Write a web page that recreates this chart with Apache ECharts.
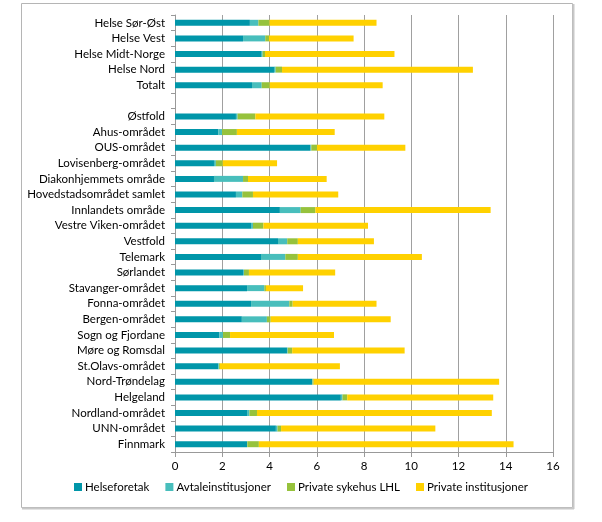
<!DOCTYPE html>
<html>
<head>
<meta charset="utf-8">
<script src="https://cdn.jsdelivr.net/npm/echarts@6/dist/echarts.min.js"></script>
<style>html,body{margin:0;padding:0;background:#fff}#c{width:602px;height:522px}</style>
</head>
<body>
<div id="c"></div>
<script>
var categories = ["Helse Sør-Øst","Helse Vest","Helse Midt-Norge","Helse Nord","Totalt","","Østfold","Ahus-området","OUS-området","Lovisenberg-området","Diakonhjemmets område","Hovedstadsområdet samlet","Innlandets område","Vestre Viken-området","Vestfold","Telemark","Sørlandet","Stavanger-området","Fonna-området","Bergen-området","Sogn og Fjordane","Møre og Romsdal","St.Olavs-området","Nord-Trøndelag","Helgeland","Nordland-området","UNN-området","Finnmark"];
var seriesNames = ["Helseforetak","Avtaleinstitusjoner","Private sykehus LHL","Private institusjoner"];
var helseforetak = [3.17,2.88,3.67,4.19,3.26,null,2.58,1.83,5.73,1.65,1.65,2.58,4.44,3.22,4.36,3.64,2.88,3.05,3.22,2.83,1.88,4.74,1.83,5.80,7.02,3.05,4.27,3.05];
var avtale = [0.36,0.94,0.04,0.07,0.41,null,0.07,0.16,0.04,0.08,1.23,0.27,0.88,0.08,0.39,1.03,0.04,0.73,1.62,1.06,0.15,0.03,0.03,0.02,0.07,0.10,0.07,0.01];
var lhl = [0.47,0.16,0.10,0.27,0.34,null,0.75,0.63,0.24,0.29,0.21,0.45,0.62,0.44,0.45,0.53,0.21,0.07,0.14,0.16,0.30,0.19,0.04,0.05,0.20,0.32,0.15,0.49];
var privInst = [4.53,3.58,5.48,8.08,4.78,null,5.46,4.14,3.74,2.30,3.33,3.61,7.42,4.43,3.22,5.25,3.65,1.57,3.55,5.08,4.40,4.76,5.08,7.85,6.18,9.94,6.53,10.78];
var xTicks = [0,2,4,6,8,10,12,14,16];
var colors = ["#0096A9","#48BEBC","#96C23C","#FFD100"];

var chart = echarts.init(document.getElementById('c'), null, {renderer:'canvas'});
var font = 'Lato, "Open Sans", sans-serif';
var data = [helseforetak, avtale, lhl, privInst];
chart.setOption({
  animation:false,
  color: colors,
  textStyle:{fontFamily:font},
  grid:{left:175, right:49, top:15, bottom:70, containLabel:false},
  legend:{
    bottom:24, left:'center', itemWidth:8, itemHeight:8, itemGap:16,
    icon:'rect',
    textStyle:{fontSize:11.5, color:'#000', fontFamily:font, padding:[0,0,0,-2]},
    data: seriesNames
  },
  xAxis:{
    type:'value', min:xTicks[0], max:xTicks[xTicks.length-1], interval:2,
    axisLine:{show:true, lineStyle:{color:'#999'}},
    axisTick:{show:true, length:5, lineStyle:{color:'#999'}},
    axisLabel:{fontSize:11.5, color:'#000', margin:8, fontFamily:font},
    splitLine:{show:true, lineStyle:{color:'#a0a0a0', width:1}}
  },
  yAxis:{
    type:'category', data:categories, inverse:true,
    axisLine:{show:true, lineStyle:{color:'#999'}},
    axisTick:{show:true, length:4, lineStyle:{color:'#999'}},
    axisLabel:{fontSize:11.5, color:'#000', margin:10, fontFamily:font},
    splitLine:{show:false}
  },
  graphic:[
    {type:'rect', shape:{x:21.5,y:3.5,width:551,height:504}, style:{fill:'none', stroke:'#b5b5b5', lineWidth:1}, silent:true},
    {type:'line', shape:{x1:573.5,y1:4,x2:573.5,y2:509}, style:{stroke:'#c8c8c8', lineWidth:2}, silent:true},
    {type:'line', shape:{x1:22,y1:508.5,x2:574,y2:508.5}, style:{stroke:'#c8c8c8', lineWidth:2}, silent:true}
  ],
  series: seriesNames.map(function(n,i){
    return {name:n, type:'bar', stack:'total', data:data[i], barWidth:6,
      itemStyle:{color:colors[i]}};
  })
});
</script>
</body>
</html>
